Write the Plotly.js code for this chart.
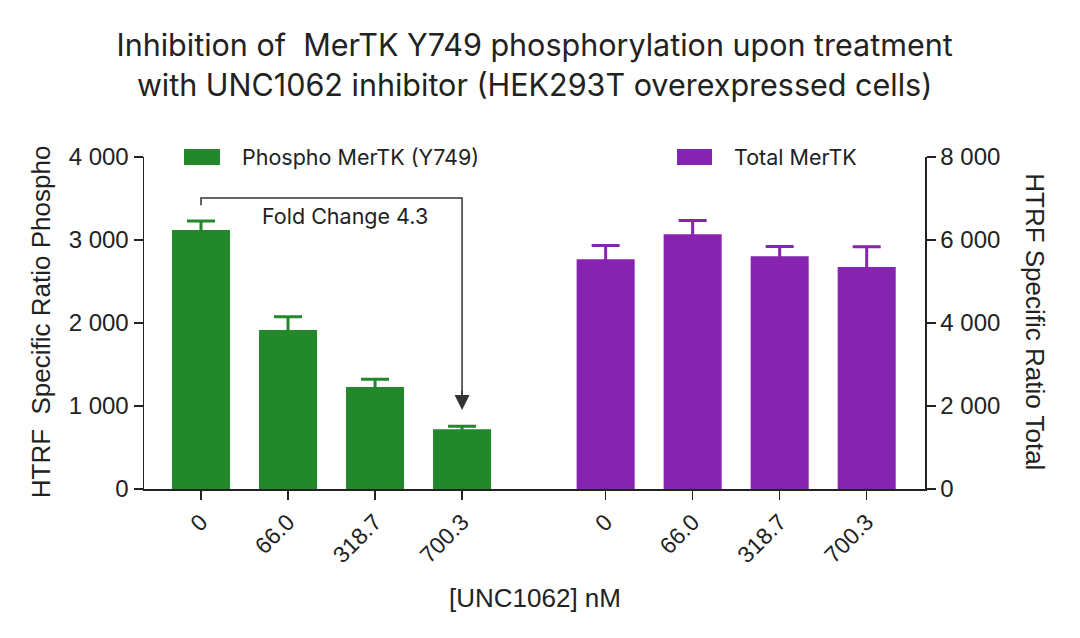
<!DOCTYPE html>
<html>
<head>
<meta charset="utf-8">
<script src="https://cdn.plot.ly/plotly-3.0.1.min.js"></script>
<style>html,body{margin:0;padding:0;background:#fff;}#chart{width:1080px;height:638px;}</style>
</head>
<body>
<div id="chart"></div>
<script>
// ---- data ----
const doses = ["0", "66.0", "318.7", "700.3"];
const phosphoMean = [3120, 1915, 1230, 720];
const phosphoErr = [110, 160, 92, 36];
const totalMean = [5535, 6140, 5607, 5350];
const totalErr = [330, 330, 235, 490];
const foldChangeLabel = "Fold Change 4.3";
const seriesNames = ["Phospho MerTK (Y749)", "Total MerTK"];

// ---- layout helpers ----
const GREEN = "#23882c";
const PURPLE = "#8623af";
const GAP = 4.65; // offset of the second group
const xg = doses.map((_, i) => i);
const xp = doses.map((_, i) => i + GAP);

const SANS = "Liberation Sans, Arial, sans-serif";
const tickFont = {family: SANS, size: 24, color: "#222"};
const labelFont = {family: "Inter, Lato, sans-serif", size: 21.5, color: "#222"};
const axTitleFont = {family: SANS, size: 26, color: "#222"};

const traces = [
  {
    type: "bar", x: xg, y: phosphoMean, name: seriesNames[0], width: 0.667,
    marker: {color: GREEN, line: {width: 0}}, showlegend: false, yaxis: "y",
    error_y: {type: "data", array: phosphoErr, color: GREEN, thickness: 3, width: 14}
  },
  {
    type: "bar", x: xp, y: totalMean, name: seriesNames[1], width: 0.667,
    marker: {color: PURPLE, line: {width: 0}}, showlegend: false, yaxis: "y2",
    error_y: {type: "data", array: totalErr, color: PURPLE, thickness: 3, width: 14}
  }
];

const bracketY = 3505, legY = 3420, tipY = 952;

const layout = {
  width: 1080, height: 638,
  margin: {l: 144, r: 155, t: 157, b: 149},
  paper_bgcolor: "#fff", plot_bgcolor: "#fff",
  separators: ". ",
  barmode: "overlay",
  showlegend: false,
  title: {
    text: "Inhibition of&nbsp; MerTK Y749 phosphorylation upon treatment<br>with UNC1062 inhibitor (HEK293T overexpressed cells)",
    font: {family: "Inter, Lato, sans-serif", size: 30.5, color: "#222"},
    x: 0.495, xanchor: "center", y: 0.912, yanchor: "top"
  },
  xaxis: {
    range: [-0.655, 8.32], tickmode: "array",
    tickvals: xg.concat(xp), ticktext: doses.concat(doses),
    tickangle: -45, ticks: "outside", ticklen: 9, tickwidth: 1.5, tickcolor: "#222",
    showline: true, linecolor: "#222", linewidth: 1.5, showgrid: false, zeroline: false,
    tickfont: {family: SANS, size: 23, color: "#222"}
  },
  yaxis: {
    range: [0, 4000], dtick: 1000, tickformat: ",d",
    ticks: "outside", ticklen: 9, tickwidth: 1.5, tickcolor: "#222",
    showline: true, linecolor: "#222", linewidth: 1.5, showgrid: false, zeroline: false,
    tickfont: tickFont
  },
  yaxis2: {
    overlaying: "y", side: "right", range: [0, 8000], dtick: 2000, tickformat: ",d",
    ticks: "outside", ticklen: 9, tickwidth: 1.5, tickcolor: "#222",
    showline: true, linecolor: "#222", linewidth: 1.5, showgrid: false, zeroline: false,
    tickfont: tickFont
  },
  shapes: [
    {type: "path", xref: "x", yref: "y",
     path: `M 0,${legY} L 0,${bracketY} L 3,${bracketY} L 3,${tipY + 150}`,
     line: {color: "#333", width: 1.5}},
    {type: "rect", xref: "paper", yref: "paper", x0: 0.0512, x1: 0.0973, y0: 0.976, y1: 1.024,
     fillcolor: GREEN, line: {width: 0}},
    {type: "rect", xref: "paper", yref: "paper", x0: 0.6825, x1: 0.7273, y0: 0.976, y1: 1.024,
     fillcolor: PURPLE, line: {width: 0}}
  ],
  annotations: [
    {x: 3, y: tipY, xref: "x", yref: "y", ax: 3, ay: tipY + 250, axref: "x", ayref: "y",
     showarrow: true, arrowhead: 2, arrowsize: 2, arrowwidth: 1.5, arrowcolor: "#333", text: ""},
    {x: 1.655, y: 3290, xref: "x", yref: "y", text: foldChangeLabel, showarrow: false,
     font: labelFont},
    {x: 0.1229, y: 1.0, xref: "paper", yref: "paper", xanchor: "left", yanchor: "middle",
     text: seriesNames[0], showarrow: false, font: labelFont},
    {x: 0.7529, y: 1.0, xref: "paper", yref: "paper", xanchor: "left", yanchor: "middle",
     text: seriesNames[1], showarrow: false, font: labelFont},
    {x: -0.132, y: 0.505, xref: "paper", yref: "paper", xanchor: "center", yanchor: "middle",
     textangle: -90, text: "HTRF&nbsp; Specific Ratio Phospho", showarrow: false, font: axTitleFont},
    {x: 1.141, y: 0.505, xref: "paper", yref: "paper", xanchor: "center", yanchor: "middle",
     textangle: 90, text: "HTRF Specific Ratio Total", showarrow: false, font: axTitleFont},
    {x: 0.5, y: -0.328, xref: "paper", yref: "paper", xanchor: "center", yanchor: "middle",
     text: "[UNC1062] nM", showarrow: false, font: axTitleFont}
  ]
};

Plotly.newPlot("chart", traces, layout, {staticPlot: true, displayModeBar: false});
</script>
</body>
</html>
